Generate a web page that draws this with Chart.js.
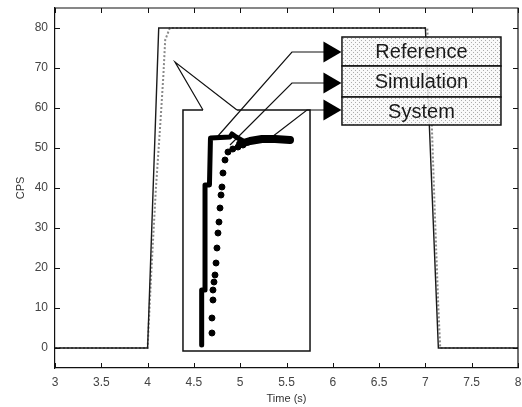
<!DOCTYPE html>
<html>
<head>
<meta charset="utf-8">
<script src="https://cdn.jsdelivr.net/npm/chart.js@4"></script>
<style>
  html, body { margin: 0; padding: 0; background: #fff; }
</style>
</head>
<body>
<canvas id="chart_cps" width="522" height="407"></canvas>
<script>
// Marcas de los ejes
const xTicks = [3, 3.5, 4, 4.5, 5, 5.5, 6, 6.5, 7, 7.5, 8];
const yTicks = [0, 10, 20, 30, 40, 50, 60, 70, 80];

// Curvas principales (tiempo en s, CPS)
const refTime = [3, 4.0, 4.12, 7.0, 7.14, 8];
const refCps  = [0, 0, 80, 80, 0, 0];
const sysTime = [3, 4.0, 4.04, 4.09, 4.14, 4.17, 4.19, 4.24, 7.02, 7.06, 7.1, 7.14, 7.16, 8];
const sysCps  = [0, 0, 19, 40, 57, 68, 77, 80, 80, 62, 35, 10, 0, 0];

// Detalle ampliado de la subida
const zoomRefTime = [4.584, 4.584, 4.62, 4.62, 4.668, 4.679, 4.89, 4.911, 4.955, 5.03, 5.084];
const zoomRefCps  = [0.75, 14.5, 14.5, 40.75, 40.75, 52.5, 52.75, 53.5, 52.75, 51.75, 51.25];
const zoomSimTime = [4.695, 4.695, 4.706, 4.706, 4.717, 4.728, 4.739, 4.749, 4.76, 4.771, 4.782, 4.793, 4.803, 4.814, 4.836, 4.868, 4.92, 4.976, 5.03];
const zoomSimCps  = [3.75, 7.5, 12, 14.5, 16.5, 18.25, 21.25, 25, 28.75, 31.5, 35, 38.25, 40.25, 43.75, 47, 49, 49.75, 50.25, 50.75];
const zoomSysTime = [5.0, 5.106, 5.235, 5.376, 5.538];
const zoomSysCps  = [51, 51.75, 52.25, 52.25, 52];

// Marco del detalle y globo que lo señala
const boxTime = [4.598, 4.382, 4.382, 5.754, 5.754, 4.965];
const boxCps  = [59.5, 59.5, -0.75, -0.75, 59.5, 59.5];
const calloutTime = [4.598, 4.296, 4.965];
const calloutCps  = [59.5, 71.5, 59.5];

// Flechas hacia las etiquetas
const refArrowTime = [4.76, 5.559, 5.964];
const refArrowCps  = [53, 74, 74];
const simArrowTime = [4.89, 5.559, 5.964];
const simArrowCps  = [50.75, 66.25, 66.25];
const sysArrowTime = [5.343, 5.721, 5.964];
const sysArrowCps  = [52.75, 59.5, 59.5];

// Etiquetas
const labelNames = ['Reference', 'Simulation', 'System'];
const labelTime = [6.099, 7.816];
const labelCps = [77.75, 70.5, 62.75, 55.75];

const pts = (xs, ys) => xs.map((x, i) => ({ x: x, y: ys[i] }));

function linea(data, color, width, extra) {
    return Object.assign({
        data: data,
        showLine: true,
        borderColor: color,
        borderWidth: width,
        pointRadius: 0,
        fill: false,
        tension: 0
    }, extra || {});
}

function flecha(data) {
    return linea(data, '#111', 1.2, {
        pointRadius: [0, 0, 12],
        pointStyle: 'triangle',
        pointRotation: 90,
        pointBackgroundColor: '#000',
        pointBorderColor: '#000',
        pointBorderWidth: 0
    });
}

// Marco superior/derecho y marcas hacia dentro
const marcoPlugin = {
    id: 'marco',
    afterDraw(chart) {
        const { ctx, chartArea: a, scales: { x, y } } = chart;
        ctx.save();
        ctx.strokeStyle = '#111';
        ctx.lineWidth = 1.2;
        ctx.beginPath();
        ctx.moveTo(a.left, a.top);
        ctx.lineTo(a.right, a.top);
        ctx.lineTo(a.right, a.bottom);
        ctx.stroke();
        ctx.lineWidth = 1;
        ctx.beginPath();
        xTicks.forEach(v => {
            const px = Math.round(x.getPixelForValue(v)) + 0.5;
            ctx.moveTo(px, a.bottom); ctx.lineTo(px, a.bottom - 5);
            ctx.moveTo(px, a.top); ctx.lineTo(px, a.top + 5);
        });
        yTicks.forEach(v => {
            const py = Math.round(y.getPixelForValue(v)) + 0.5;
            ctx.moveTo(a.left, py); ctx.lineTo(a.left + 5, py);
            ctx.moveTo(a.right, py); ctx.lineTo(a.right - 5, py);
        });
        ctx.stroke();
        ctx.restore();
    }
};

// Cajas de texto con trama punteada
const etiquetasPlugin = {
    id: 'etiquetas',
    afterDatasetsDraw(chart) {
        const { ctx, scales: { x, y } } = chart;
        const tile = document.createElement('canvas');
        tile.width = 4; tile.height = 4;
        const tc = tile.getContext('2d');
        tc.fillStyle = 'rgba(248,248,248,0.88)';
        tc.fillRect(0, 0, 4, 4);
        tc.fillStyle = 'rgba(160,160,160,0.85)';
        tc.fillRect(1, 0, 1, 1);
        tc.fillRect(3, 2, 1, 1);
        const trama = ctx.createPattern(tile, 'repeat');

        const x0 = x.getPixelForValue(labelTime[0]);
        const x1 = x.getPixelForValue(labelTime[1]);
        ctx.save();
        labelNames.forEach((name, i) => {
            const y0 = y.getPixelForValue(labelCps[i]);
            const y1 = y.getPixelForValue(labelCps[i + 1]);
            ctx.fillStyle = trama;
            ctx.fillRect(x0, y0, x1 - x0, y1 - y0);
            ctx.strokeStyle = '#111';
            ctx.lineWidth = 1.5;
            ctx.strokeRect(x0, y0, x1 - x0, y1 - y0);
            ctx.fillStyle = '#1a1a1a';
            ctx.font = '20px "Liberation Sans", Arial, sans-serif';
            ctx.textAlign = 'center';
            ctx.textBaseline = 'middle';
            ctx.fillText(name, (x0 + x1) / 2, (y0 + y1) / 2 + 1);
        });
        ctx.restore();
    }
};

const ctx = document.getElementById('chart_cps').getContext('2d');

const chartCPS = new Chart(ctx, {
    type: 'scatter',
    data: {
        datasets: [
            linea(pts(refTime, refCps), '#1a1a1a', 1.4),
            linea(pts(sysTime, sysCps), '#8a8a8a', 2, { borderDash: [2, 2] }),
            linea(pts(zoomRefTime, zoomRefCps), '#000', 5, { borderJoinStyle: 'round', borderCapStyle: 'round' }),
            {
                data: pts(zoomSimTime, zoomSimCps),
                showLine: false,
                pointRadius: 3,
                pointBackgroundColor: '#000',
                pointBorderColor: '#000'
            },
            linea(pts(zoomSysTime, zoomSysCps), '#000', 8, { borderCapStyle: 'round', borderJoinStyle: 'round' }),
            linea(pts(boxTime, boxCps), '#111', 1.5),
            linea(pts(calloutTime, calloutCps), '#111', 1.2),
            flecha(pts(refArrowTime, refArrowCps)),
            flecha(pts(simArrowTime, simArrowCps)),
            flecha(pts(sysArrowTime, sysArrowCps))
        ]
    },
    options: {
        responsive: false,
        animation: false,
        events: [],
        layout: { autoPadding: false, padding: { top: 8, right: 4, left: 0, bottom: 0 } },
        plugins: {
            legend: { display: false },
            tooltip: { enabled: false }
        },
        scales: {
            x: {
                type: 'linear',
                min: 3,
                max: 8,
                afterBuildTicks: s => { s.ticks = xTicks.map(v => ({ value: v })); },
                afterFit: s => { s.height = 39; s.paddingLeft = 0; s.paddingRight = 0; },
                grid: { display: false, drawTicks: false },
                border: { display: true, color: '#111', width: 1.2 },
                ticks: {
                    callback: v => String(v),
                    color: '#444',
                    font: { family: '"Liberation Sans", Arial, sans-serif', size: 12 },
                    padding: 7,
                    maxRotation: 0,
                    autoSkip: false
                },
                title: {
                    display: true,
                    text: 'Time (s)',
                    color: '#333',
                    font: { family: '"Liberation Sans", Arial, sans-serif', size: 11 },
                    padding: { top: 0, bottom: 1 }
                }
            },
            y: {
                min: -5,
                max: 85,
                afterBuildTicks: s => { s.ticks = yTicks.map(v => ({ value: v })); },
                afterFit: s => { s.width = 55; s.paddingTop = 0; s.paddingBottom = 0; },
                grid: { display: false, drawTicks: false },
                border: { display: true, color: '#111', width: 1.2 },
                ticks: {
                    color: '#444',
                    font: { family: '"Liberation Sans", Arial, sans-serif', size: 12 },
                    padding: 7
                },
                title: {
                    display: true,
                    text: 'CPS',
                    color: '#333',
                    font: { family: '"Liberation Sans", Arial, sans-serif', size: 11 },
                    padding: { top: 14, bottom: 0 }
                }
            }
        }
    },
    plugins: [etiquetasPlugin, marcoPlugin]
});
</script>
</body>
</html>
